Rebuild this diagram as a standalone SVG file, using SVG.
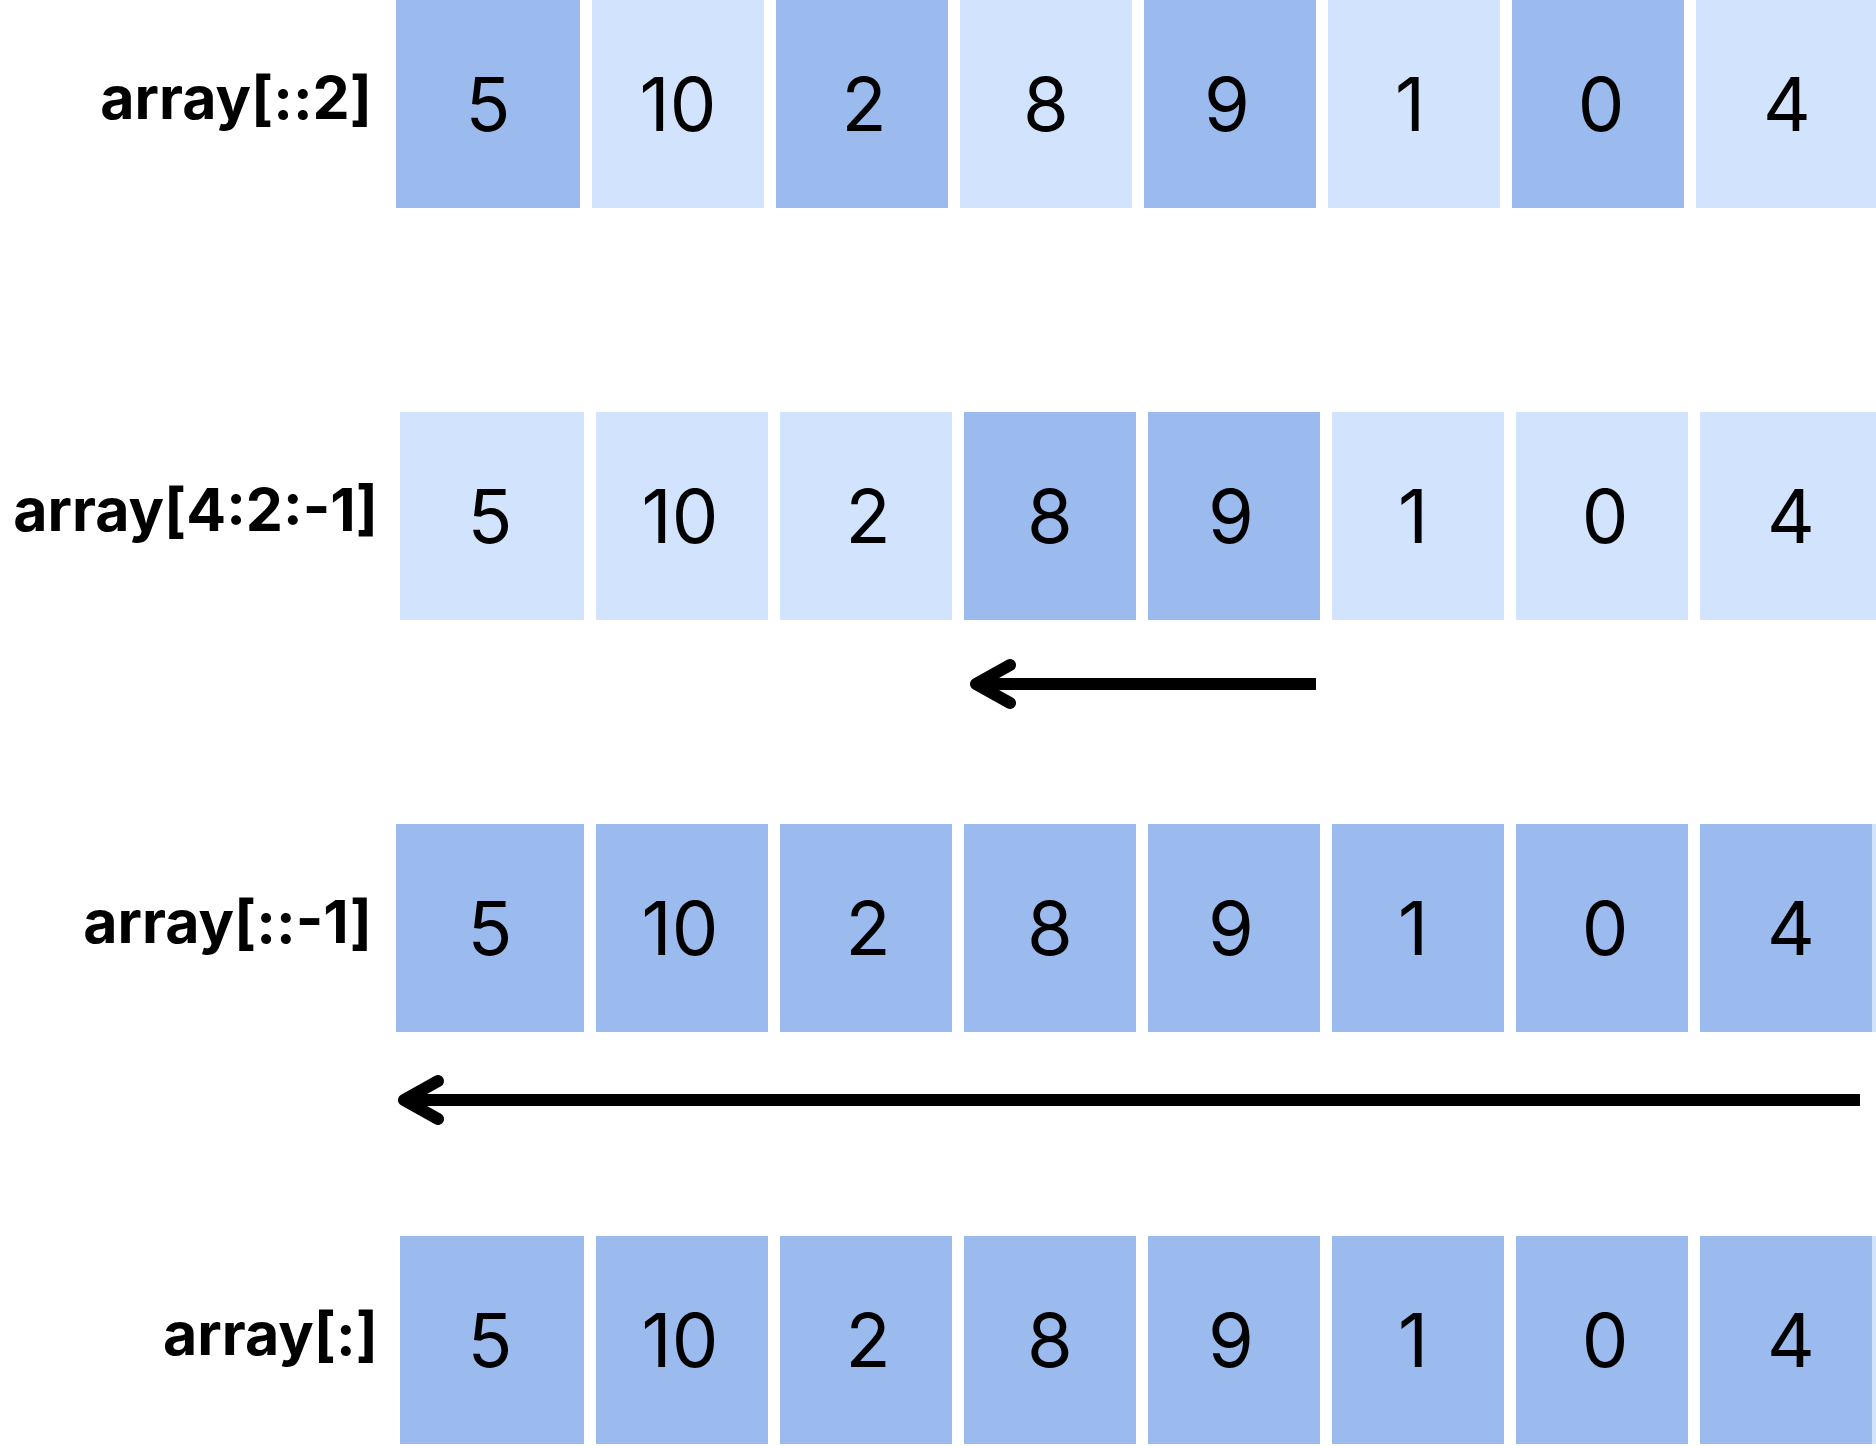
<svg xmlns="http://www.w3.org/2000/svg" width="1876" height="1448" viewBox="0 0 1876 1448">
<style>
.d{fill:#9BBAEE}
.l{fill:#D2E3FD}
.n{font-family:Inter,"Liberation Sans",sans-serif;font-size:74px;fill:#000;text-anchor:middle}
.lb{font-family:Inter,"Liberation Sans",sans-serif;font-size:59px;font-weight:700;fill:#000;text-anchor:end}
.ln{stroke:#000;stroke-width:12;fill:none;stroke-linecap:butt}
.hd{stroke:#000;stroke-width:12;fill:none;stroke-linecap:round;stroke-linejoin:round}
</style>
<rect width="1876" height="1448" fill="#fff"/>
<g id="row1">
<text class="lb" x="372" y="119">array[::2]</text>
<g id="r1c1"><rect class="d" x="396" y="0" width="184" height="208"/><text class="n" x="488" y="131">5</text></g>
<g id="r1c2"><rect class="l" x="592" y="0" width="172" height="208"/><text class="n" x="678" y="131">10</text></g>
<g id="r1c3"><rect class="d" x="776" y="0" width="172" height="208"/><text class="n" x="864" y="131">2</text></g>
<g id="r1c4"><rect class="l" x="960" y="0" width="172" height="208"/><text class="n" x="1046" y="131">8</text></g>
<g id="r1c5"><rect class="d" x="1144" y="0" width="172" height="208"/><text class="n" x="1227" y="131">9</text></g>
<g id="r1c6"><rect class="l" x="1328" y="0" width="172" height="208"/><text class="n" x="1410" y="131">1</text></g>
<g id="r1c7"><rect class="d" x="1512" y="0" width="172" height="208"/><text class="n" x="1601" y="131">0</text></g>
<g id="r1c8"><rect class="l" x="1696" y="0" width="180" height="208"/><text class="n" x="1787" y="131">4</text></g>
</g>
<g id="row2">
<text class="lb" x="378" y="531">array[4:2:-1]</text>
<g id="r2c1"><rect class="l" x="400" y="412" width="184" height="208"/><text class="n" x="490" y="543">5</text></g>
<g id="r2c2"><rect class="l" x="596" y="412" width="172" height="208"/><text class="n" x="680" y="543">10</text></g>
<g id="r2c3"><rect class="l" x="780" y="412" width="172" height="208"/><text class="n" x="868" y="543">2</text></g>
<g id="r2c4"><rect class="d" x="964" y="412" width="172" height="208"/><text class="n" x="1050" y="543">8</text></g>
<g id="r2c5"><rect class="d" x="1148" y="412" width="172" height="208"/><text class="n" x="1231" y="543">9</text></g>
<g id="r2c6"><rect class="l" x="1332" y="412" width="172" height="208"/><text class="n" x="1413" y="543">1</text></g>
<g id="r2c7"><rect class="l" x="1516" y="412" width="172" height="208"/><text class="n" x="1605" y="543">0</text></g>
<g id="r2c8"><rect class="l" x="1700" y="412" width="176" height="208"/><text class="n" x="1791" y="543">4</text></g>
</g>
<g id="row3">
<text class="lb" x="372" y="943">array[::-1]</text>
<g id="r3c1"><rect class="d" x="396" y="824" width="188" height="208"/><text class="n" x="490" y="955">5</text></g>
<g id="r3c2"><rect class="d" x="596" y="824" width="172" height="208"/><text class="n" x="680" y="955">10</text></g>
<g id="r3c3"><rect class="d" x="780" y="824" width="172" height="208"/><text class="n" x="868" y="955">2</text></g>
<g id="r3c4"><rect class="d" x="964" y="824" width="172" height="208"/><text class="n" x="1050" y="955">8</text></g>
<g id="r3c5"><rect class="d" x="1148" y="824" width="172" height="208"/><text class="n" x="1231" y="955">9</text></g>
<g id="r3c6"><rect class="d" x="1332" y="824" width="172" height="208"/><text class="n" x="1413" y="955">1</text></g>
<g id="r3c7"><rect class="d" x="1516" y="824" width="172" height="208"/><text class="n" x="1605" y="955">0</text></g>
<g id="r3c8"><rect class="d" x="1700" y="824" width="172" height="208"/><rect class="l" x="1872" y="824" width="4" height="208"/><text class="n" x="1791" y="955">4</text></g>
</g>
<g id="row4">
<text class="lb" x="378" y="1355">array[:]</text>
<g id="r4c1"><rect class="d" x="400" y="1236" width="184" height="208"/><text class="n" x="490" y="1367">5</text></g>
<g id="r4c2"><rect class="d" x="596" y="1236" width="172" height="208"/><text class="n" x="680" y="1367">10</text></g>
<g id="r4c3"><rect class="d" x="780" y="1236" width="172" height="208"/><text class="n" x="868" y="1367">2</text></g>
<g id="r4c4"><rect class="d" x="964" y="1236" width="172" height="208"/><text class="n" x="1050" y="1367">8</text></g>
<g id="r4c5"><rect class="d" x="1148" y="1236" width="172" height="208"/><text class="n" x="1231" y="1367">9</text></g>
<g id="r4c6"><rect class="d" x="1332" y="1236" width="172" height="208"/><text class="n" x="1413" y="1367">1</text></g>
<g id="r4c7"><rect class="d" x="1516" y="1236" width="172" height="208"/><text class="n" x="1605" y="1367">0</text></g>
<g id="r4c8"><rect class="d" x="1700" y="1236" width="172" height="208"/><rect class="l" x="1872" y="1236" width="4" height="208"/><text class="n" x="1791" y="1367">4</text></g>
</g>
<g id="connectors">
<g id="arrow1"><path class="ln" d="M1316 684 H980"/><polyline class="hd" points="1010,665 976,684 1010,703"/></g>
<g id="arrow2"><path class="ln" d="M1860 1100 H409"/><polyline class="hd" points="438,1081 404,1100 438,1119"/></g>
</g>
</svg>
